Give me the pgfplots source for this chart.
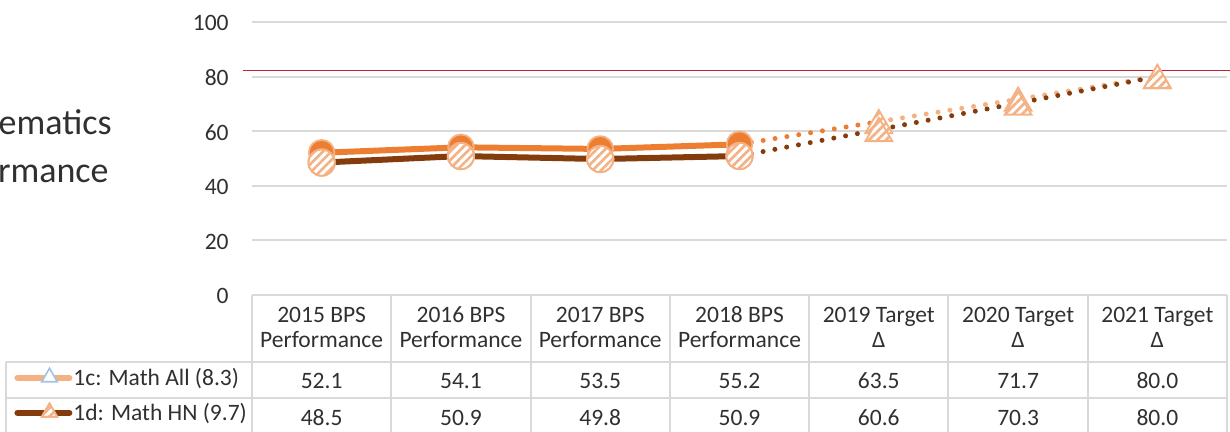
\documentclass[border=0pt]{standalone}
\usepackage{fontspec}
\setmainfont{Carlito}
\usepackage{pgfplots}
\pgfplotsset{compat=1.18}
\usetikzlibrary{patterns,patterns.meta,shapes.geometric}
\definecolor{cOr}{HTML}{ED7D31}
\definecolor{cLo}{HTML}{F4B183}
\definecolor{cBr}{HTML}{843C0C}
\definecolor{cRed}{HTML}{C8202A}
\definecolor{cGrid}{HTML}{D9D9D9}
\definecolor{cTxt}{HTML}{303030}
\definecolor{cBlue}{HTML}{9DC3E6}
\newcommand\tfont{\fontsize{11.75pt}{14pt}\selectfont}
\tikzset{
  hatch/.style={fill=white, draw=cLo, line width=0.9pt,
    postaction={pattern={Lines[angle=45,distance=3pt,line width=1.3pt]}, pattern color=cLo}},
  hcircle/.style={hatch, circle, inner sep=0pt, minimum size=13.2pt, anchor=center},
  htri/.style={hatch, regular polygon, regular polygon sides=3, inner sep=0pt, minimum size=15.5pt, anchor=center, yshift=-1.9pt},
  dotline/.style={line width=2.5pt, line cap=round, dash pattern=on 0pt off 6pt},
}
\begin{document}
\begin{tikzpicture}
\useasboundingbox (0pt,0pt) rectangle (615pt,-216pt);
\clip (0pt,0pt) rectangle (615pt,-216pt);
\begin{axis}[
  at={(126pt,-147.5pt)}, anchor=south west,
  scale only axis, width=487.5pt, height=136.5pt,
  xmin=0.5, xmax=7.5, ymin=0, ymax=100,
  axis line style={draw=none},
  xtick=\empty,
  ytick={0,20,40,60,80,100},
  ymajorgrids, grid style={cGrid, line width=1pt},
  major tick length=0pt,
  /pgf/number format/assume math mode=true,
  yticklabel style={font=\tfont, text=cTxt, inner sep=0pt, xshift=-11.5pt, yshift=-0.6pt, anchor=east},
  clip=false,
  legend cell align=left,
  legend style={at={(rel axis cs:-0.2441,-0.2637)}, anchor=north west, draw=none, fill=none,
    inner sep=0pt, row sep=7pt, column sep=0.5pt, font=\tfont, text=cTxt,
    nodes={inner sep=0pt}},
]
% legend
\addlegendimage{legend image code/.code={
  \draw[cLo, line width=3pt, line cap=round] (0pt,0pt) -- (26pt,0pt);
  \node[draw=cBlue, fill=white, line width=0.8pt, regular polygon, regular polygon sides=3, inner sep=0pt, minimum size=9pt] at (13pt,0.3pt) {};
}}
\addlegendentry{\rule[-3pt]{0pt}{12pt}1c: Math All (8.3)}
\addlegendimage{legend image code/.code={
  \draw[cBr, line width=3pt, line cap=round] (0pt,0pt) -- (26pt,0pt);
  \node[hatch, line width=0.8pt, regular polygon, regular polygon sides=3, inner sep=0pt, minimum size=9pt] at (13pt,0.3pt) {};
}}
\addlegendentry{\rule[-3pt]{0pt}{12pt}1d: Math HN (9.7)}
% target reference line
\addplot[cRed, line width=0.75pt, forget plot] coordinates {(0.435,82.2) (7.53,82.2)};
% 1c: Math All
\addplot[cOr, dotline, forget plot] coordinates {(4,55.2) (5,63.5)};
\addplot[cLo, dotline, forget plot] coordinates {(5,63.5) (6,71.7) (7,80.0)};
\addplot[cOr, line width=3pt, line join=round, mark=*, mark size=6.4pt,
  mark options={fill=cOr, draw=cLo, line width=0.9pt, solid}, forget plot]
  coordinates {(1,52.1) (2,54.1) (3,53.5) (4,55.2)};
\addplot[draw=none, mark=none, nodes near coords={}, every node near coord/.style={htri}, forget plot]
  coordinates {(5,63.5) (6,71.7) (7,80.0)};
% 1d: Math HN
\addplot[cBr, dotline, forget plot] coordinates {(4,50.9) (5,60.6) (6,70.3) (7,80.0)};
\addplot[cBr, line width=3pt, line join=round, mark=none,
  nodes near coords={}, every node near coord/.style={hcircle}, forget plot]
  coordinates {(1,48.5) (2,50.9) (3,49.8) (4,50.9)};
\addplot[draw=none, mark=none, nodes near coords={}, every node near coord/.style={htri}, forget plot]
  coordinates {(5,60.6) (6,70.3) (7,80.0)};
\end{axis}
\begin{scope}[x=0.5pt, y=-0.5pt]
  % title (partially outside the picture, as in the reference)
  \node[anchor=base east, inner sep=0pt, text=cTxt, font=\fontsize{18pt}{22pt}\selectfont] at (112,135) {Mathematics};
  \node[anchor=base east, inner sep=0pt, text=cTxt, font=\fontsize{18pt}{22pt}\selectfont] at (109,183) {Performance};
  % table grid
  \draw[cGrid, line width=1pt] (252,295) -- (1227,295);
  \draw[cGrid, line width=1pt] (6,362) -- (1227,362);
  \draw[cGrid, line width=1pt] (6,398) -- (1227,398);
  \draw[cGrid, line width=1pt] (6,362) -- (6,440);
  \foreach \k in {0,...,7} {
    \draw[cGrid, line width=1pt] ({252+139.2857*\k},295) -- ({252+139.2857*\k},440);
  }
  % header
  \foreach \i/\a/\b in {1/2015 BPS/Performance, 2/2016 BPS/Performance, 3/2017 BPS/Performance,
      4/2018 BPS/Performance, 5/2019 Target/Δ, 6/2020 Target/Δ, 7/2021 Target/Δ} {
    \node[anchor=base, inner sep=0pt, text=cTxt, font=\tfont] at ({252+139.2857*(\i-0.5)},322) {\a};
    \node[anchor=base, inner sep=0pt, text=cTxt, font=\tfont] at ({252+139.2857*(\i-0.5)},348) {\b};
  }
  % values
  \foreach \i/\v/\w in {1/52.1/48.5, 2/54.1/50.9, 3/53.5/49.8, 4/55.2/50.9, 5/63.5/60.6, 6/71.7/70.3, 7/80.0/80.0} {
    \node[anchor=base, inner sep=0pt, text=cTxt, font=\tfont] at ({252+139.2857*(\i-0.5)},388) {\v};
    \node[anchor=base, inner sep=0pt, text=cTxt, font=\tfont] at ({252+139.2857*(\i-0.5)},425) {\w};
  }
\end{scope}
\end{tikzpicture}
\end{document}
